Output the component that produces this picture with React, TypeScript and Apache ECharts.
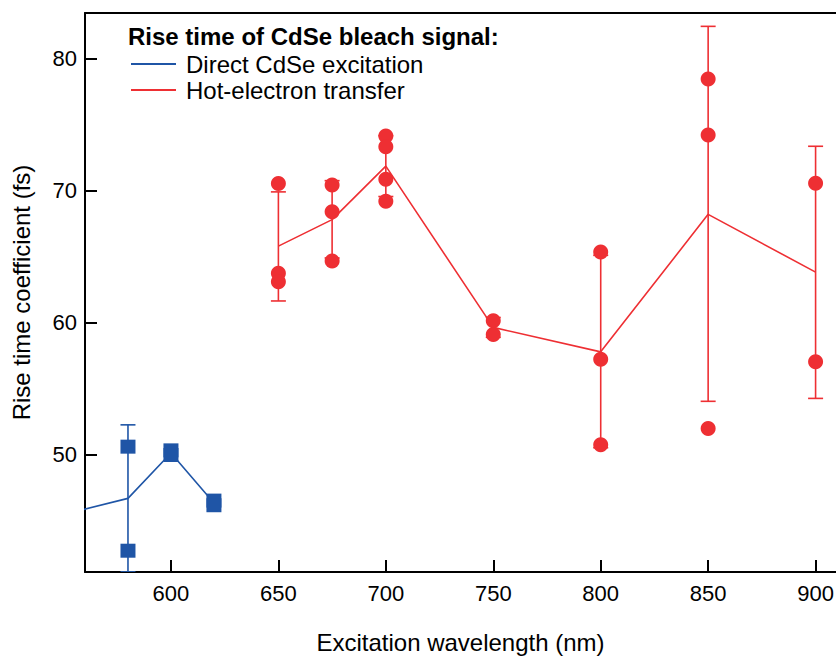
import React, { useEffect, useRef } from "react";
import * as echarts from "echarts";

// ---- data ----
const xTickValues = [600, 650, 700, 750, 800, 850, 900];
const yTickValues = [50, 60, 70, 80];

// Direct CdSe excitation (blue squares)
const directWavelengths = [580, 600, 620];
const directPoints = [
  [50.63, 42.76],
  [50.35, 50.0],
  [46.55, 46.2],
];
const directLineX = [540, 580, 600, 620];
const directLineY = [45.1, 46.72, 50.15, 46.37];
const directErrX = [580];
const directErrLow = [41.16];
const directErrHigh = [52.28];

// Hot-electron transfer (red circles)
const hotWavelengths = [650, 675, 700, 750, 800, 850, 900];
const hotPoints = [
  [70.54, 63.74, 63.1],
  [70.42, 68.4, 64.67],
  [74.12, 73.31, 70.85, 69.2],
  [60.15, 59.12],
  [65.36, 57.25, 50.78],
  [78.43, 74.2, 52.0],
  [70.55, 57.05],
];
const hotMeans = [65.8, 67.8, 71.85, 59.65, 57.8, 68.2, 63.83];
const hotErrLow = [61.65, 64.9, 69.55, 58.9, 50.55, 54.06, 54.28];
const hotErrHigh = [69.9, 70.75, 74.15, 60.4, 65.1, 82.42, 73.35];

const BLUE = "#1F55A6";
const RED = "#EE2F33";
const FONT = "Liberation Sans";

function errorBarSeries(xs: number[], lo: number[], hi: number[], color: string) {
  return {
    type: "custom",
    z: 2,
    clip: true,
    encode: { x: 0, y: [1, 2] },
    data: xs.map((x, i) => [x, lo[i], hi[i]]),
    renderItem: (_params: any, api: any) => {
      const x = api.value(0);
      const pLo = api.coord([x, api.value(1)]);
      const pHi = api.coord([x, api.value(2)]);
      const hw = 7.5;
      const style = { stroke: color, lineWidth: 1.6 };
      return {
        type: "group",
        children: [
          { type: "line", shape: { x1: pLo[0], y1: pLo[1], x2: pHi[0], y2: pHi[1] }, style },
          { type: "line", shape: { x1: pLo[0] - hw, y1: pLo[1], x2: pLo[0] + hw, y2: pLo[1] }, style },
          { type: "line", shape: { x1: pHi[0] - hw, y1: pHi[1], x2: pHi[0] + hw, y2: pHi[1] }, style },
        ],
      };
    },
  };
}

function flatten(xs: number[], pts: number[][]) {
  const out: number[][] = [];
  xs.forEach((x, i) => pts[i].forEach((v) => out.push([x, v])));
  return out;
}

export default function App() {
  const ref = useRef<HTMLDivElement>(null);
  useEffect(() => {
    if (!ref.current) return;
    const chart = echarts.init(ref.current, null, { renderer: "svg" });
    const axisLine = { show: true, lineStyle: { color: "#000", width: 2 } };
    chart.setOption({
      animation: false,
      backgroundColor: "#fff",
      textStyle: { fontFamily: FONT },
      grid: { left: 85, right: 0, top: 13, bottom: 84, containLabel: false, outerBoundsMode: "none" },
      xAxis: [
        {
          type: "value",
          min: 560,
          max: 909.5,
          position: "bottom",
          axisLine,
          axisTick: { show: true, inside: true, length: 12, lineStyle: { color: "#000", width: 2 }, customValues: xTickValues },
          axisLabel: { show: true, customValues: xTickValues, color: "#000", fontSize: 22, fontFamily: FONT, margin: 10 },
          splitLine: { show: false },
          name: "Excitation wavelength (nm)",
          nameLocation: "middle",
          nameGap: 58,
          nameTextStyle: { color: "#000", fontSize: 24, fontFamily: FONT },
        },
        {
          type: "value",
          min: 560,
          max: 909.5,
          position: "top",
          axisLine,
          axisTick: { show: false },
          axisLabel: { show: false },
          splitLine: { show: false },
        },
      ],
      yAxis: {
        type: "value",
        min: 41.15,
        max: 83.43,
        axisLine,
        axisTick: { show: true, inside: true, length: 12, lineStyle: { color: "#000", width: 2 }, customValues: yTickValues },
        axisLabel: { show: true, customValues: yTickValues, color: "#000", fontSize: 22, fontFamily: FONT, margin: 8 },
        splitLine: { show: false },
        name: "Rise time coefficient (fs)",
        nameLocation: "middle",
        nameGap: 52,
        nameTextStyle: { color: "#000", fontSize: 24, fontFamily: FONT },
      },
      series: [
        errorBarSeries(directErrX, directErrLow, directErrHigh, BLUE),
        errorBarSeries(hotWavelengths, hotErrLow, hotErrHigh, RED),
        {
          name: "Direct CdSe excitation",
          type: "line",
          z: 3,
          clip: true,
          showSymbol: false,
          data: directLineX.map((x, i) => [x, directLineY[i]]),
          lineStyle: { color: BLUE, width: 1.6 },
          itemStyle: { color: BLUE },
        },
        {
          name: "Hot-electron transfer",
          type: "line",
          z: 3,
          clip: true,
          showSymbol: false,
          data: hotWavelengths.map((x, i) => [x, hotMeans[i]]),
          lineStyle: { color: RED, width: 1.6 },
          itemStyle: { color: RED },
        },
        {
          type: "scatter",
          z: 4,
          symbol: "rect",
          symbolSize: [15, 14],
          data: flatten(directWavelengths, directPoints),
          itemStyle: { color: BLUE, opacity: 1 },
        },
        {
          type: "scatter",
          z: 4,
          symbol: "circle",
          symbolSize: 15,
          data: flatten(hotWavelengths, hotPoints),
          itemStyle: { color: RED, opacity: 1 },
        },
      ],
      graphic: [
        {
          type: "text",
          x: 128,
          y: 36,
          style: { text: "Rise time of CdSe bleach signal:", fill: "#000", font: `bold 24px "${FONT}"`, verticalAlign: "middle", align: "left" },
        },
        { type: "line", shape: { x1: 131, y1: 64, x2: 176, y2: 64 }, style: { stroke: BLUE, lineWidth: 2 } },
        {
          type: "text",
          x: 186,
          y: 64,
          style: { text: "Direct CdSe excitation", fill: "#000", font: `24px "${FONT}"`, verticalAlign: "middle", align: "left" },
        },
        { type: "line", shape: { x1: 131, y1: 90, x2: 176, y2: 90 }, style: { stroke: RED, lineWidth: 2 } },
        {
          type: "text",
          x: 186,
          y: 90,
          style: { text: "Hot-electron transfer", fill: "#000", font: `24px "${FONT}"`, verticalAlign: "middle", align: "left" },
        },
      ],
    });
    return () => chart.dispose();
  }, []);
  return (
    <div
      ref={ref}
      style={{ position: "fixed", left: 0, top: 0, width: 836, height: 656, background: "#fff" }}
    />
  );
}
